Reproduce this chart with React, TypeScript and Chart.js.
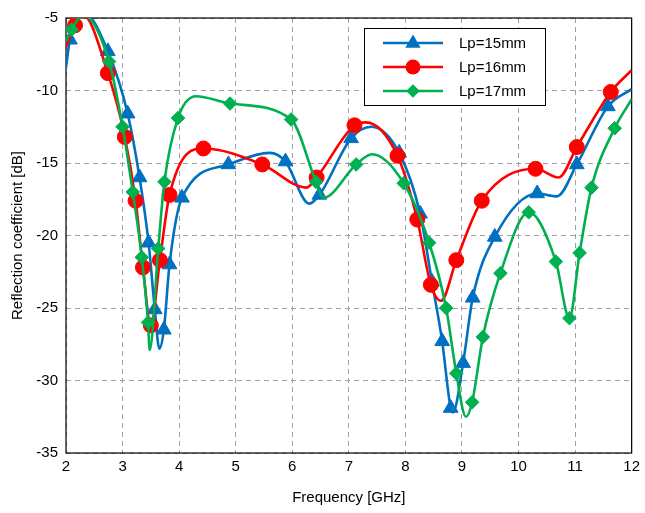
import React, { useEffect, useRef } from 'react';
import { Chart, registerables } from 'chart.js';
Chart.register(...registerables);

const seriesNames = ['Lp=15mm', 'Lp=16mm', 'Lp=17mm'];
const seriesColors = ['#0070C0', '#FF0000', '#00B050'];
const pointStyles = ['triangle', 'circle', 'rectRot'];
const pointRadii = [8.5, 7.5, 6.8];

// Lp = 15 mm — marked points
const blueMarkF = [2.07, 2.74, 3.09, 3.3, 3.46, 3.57, 3.73, 3.83, 4.05, 4.87, 5.88, 6.48, 7.04, 7.89, 8.26, 8.47, 8.65, 8.8, 9.02, 9.19, 9.58, 10.33, 11.03, 11.58];
const blueMarkV = [-6.5, -7.3, -11.6, -16.0, -20.5, -25.1, -26.5, -22.0, -17.4, -15.1, -14.9, -17.2, -13.3, -14.3, -18.5, -23.2, -27.3, -31.9, -28.8, -24.3, -20.1, -17.1, -15.1, -11.1];
// Lp = 15 mm — curve points between markers
const blueCurveF = [2.0, 2.35, 3.65, 5.6, 6.3, 7.4, 8.84, 10.68, 12.0];
const blueCurveV = [-8.4, -4.8, -27.8, -14.3, -17.8, -12.5, -32.2, -17.3, -9.9];

// Lp = 16 mm
const redMarkF = [2.16, 2.74, 3.04, 3.23, 3.36, 3.5, 3.66, 3.83, 4.43, 5.47, 6.43, 7.1, 7.86, 8.21, 8.45, 8.9, 9.35, 10.3, 11.03, 11.63];
const redMarkV = [-5.5, -8.8, -13.2, -17.6, -22.2, -26.2, -21.7, -17.2, -14.0, -15.1, -16.0, -12.4, -14.5, -18.9, -23.4, -21.7, -17.6, -15.4, -13.9, -10.1];
const redCurveF = [2.0, 2.3, 6.25, 7.3, 8.63, 10.71, 12.0];
const redCurveV = [-7.0, -4.8, -16.7, -12.2, -24.5, -16.0, -8.6];

// Lp = 17 mm
const greenMarkF = [2.1, 2.76, 3.0, 3.18, 3.34, 3.45, 3.63, 3.74, 3.98, 4.9, 5.98, 6.42, 7.13, 7.97, 8.42, 8.72, 8.9, 9.18, 9.37, 9.68, 10.18, 10.66, 10.9, 11.08, 11.29, 11.7];
const greenMarkV = [-5.8, -8.0, -12.5, -17.0, -21.5, -26.0, -20.9, -16.3, -11.9, -10.9, -12.0, -16.3, -15.1, -16.4, -20.5, -25.0, -29.5, -31.5, -27.0, -22.6, -18.4, -21.8, -25.7, -21.2, -16.7, -12.6];
const greenCurveF = [2.0, 2.3, 3.48, 4.3, 6.55, 7.41, 9.07, 12.0];
const greenCurveV = [-6.6, -4.8, -27.9, -10.4, -17.4, -14.4, -32.5, -10.6];

const markF = [blueMarkF, redMarkF, greenMarkF];
const markV = [blueMarkV, redMarkV, greenMarkV];
const curveF = [blueCurveF, redCurveF, greenCurveF];
const curveV = [blueCurveV, redCurveV, greenCurveV];

const xMin = 2, xMax = 12, xStep = 1;
const yMin = -35, yMax = -5, yStep = 5;
const xTitle = 'Frequency [GHz]';
const yTitle = 'Reflection coefficient [dB]';

const FONT = "'Liberation Sans', Arial, sans-serif";

function drawMarker(ctx: CanvasRenderingContext2D, style: string, x: number, y: number, r: number) {
  ctx.beginPath();
  if (style === 'circle') {
    ctx.arc(x, y, r, 0, Math.PI * 2);
  } else if (style === 'triangle') {
    ctx.moveTo(x, y - r);
    ctx.lineTo(x + r * 0.9, y + r * 0.55);
    ctx.lineTo(x - r * 0.9, y + r * 0.55);
    ctx.closePath();
  } else {
    ctx.moveTo(x, y - r);
    ctx.lineTo(x + r, y);
    ctx.lineTo(x, y + r);
    ctx.lineTo(x - r, y);
    ctx.closePath();
  }
  ctx.fill();
}

const framePlugin = {
  id: 'frame',
  beforeDatasetsDraw(chart: any) {
    const { ctx, chartArea } = chart;
    ctx.save();
    ctx.strokeStyle = '#000';
    ctx.lineWidth = 1.2;
    ctx.strokeRect(chartArea.left, chartArea.top, chartArea.right - chartArea.left, chartArea.bottom - chartArea.top);
    ctx.restore();
  },
};

const legendPlugin = {
  id: 'customLegend',
  afterDraw(chart: any) {
    const ctx: CanvasRenderingContext2D = chart.ctx;
    const bx = 364, by = 28, bw = 181, bh = 77;
    ctx.save();
    ctx.fillStyle = '#fff';
    ctx.fillRect(bx, by, bw, bh);
    ctx.strokeStyle = '#000';
    ctx.lineWidth = 1;
    ctx.strokeRect(bx + 0.5, by + 0.5, bw, bh);
    const rows = [43, 67, 91];
    for (let i = 0; i < 3; i++) {
      const y = rows[i];
      ctx.strokeStyle = seriesColors[i];
      ctx.lineWidth = 2.5;
      ctx.beginPath();
      ctx.moveTo(383, y);
      ctx.lineTo(443, y);
      ctx.stroke();
      ctx.fillStyle = seriesColors[i];
      drawMarker(ctx, pointStyles[i], 413, y, pointRadii[i]);
      ctx.fillStyle = '#000';
      ctx.font = `15px ${FONT}`;
      ctx.textBaseline = 'middle';
      ctx.textAlign = 'left';
      ctx.fillText(seriesNames[i], 459, y + 1);
    }
    ctx.restore();
  },
};

export default function App() {
  const ref = useRef<HTMLCanvasElement>(null);
  useEffect(() => {
    document.body.style.margin = '0';
    const datasets: any[] = [];
    for (let i = 0; i < 3; i++) {
      const pts = markF[i].map((f, j) => ({ x: f, y: markV[i][j] }))
        .concat(curveF[i].map((f, j) => ({ x: f, y: curveV[i][j] })))
        .sort((a, b) => a.x - b.x);
      datasets.push({
        label: seriesNames[i],
        data: pts,
        borderColor: seriesColors[i],
        borderWidth: 2.6,
        pointRadius: 0,
        cubicInterpolationMode: 'monotone',
        fill: false,
        order: 3 - i,
      });
      datasets.push({
        label: seriesNames[i] + ' markers',
        data: markF[i].map((f, j) => ({ x: f, y: markV[i][j] })),
        showLine: false,
        pointStyle: pointStyles[i],
        pointRadius: pointRadii[i],
        backgroundColor: seriesColors[i],
        borderColor: seriesColors[i],
        borderWidth: 1,
        order: 3 - i,
      });
    }
    const chart = new Chart(ref.current!, {
      type: 'line',
      data: { datasets },
      options: {
        animation: false,
        responsive: false,
        layout: { padding: { top: 18, right: 12, left: 0, bottom: 0 } },
        plugins: { legend: { display: false }, tooltip: { enabled: false } },
        scales: {
          x: {
            type: 'linear',
            min: xMin,
            max: xMax,
            ticks: { stepSize: xStep, color: '#000', font: { size: 15, family: FONT }, padding: 5, maxRotation: 0 },
            grid: { color: '#a0a0a0', lineWidth: 1, drawTicks: false },
            border: { display: false, dash: [5, 4] },
            title: { display: true, text: xTitle, color: '#000', font: { size: 15, family: FONT }, padding: { top: 0, bottom: 6 } },
            afterFit: (s: any) => { s.height = 60; },
          },
          y: {
            type: 'linear',
            min: yMin,
            max: yMax,
            ticks: { stepSize: yStep, color: '#000', font: { size: 15, family: FONT }, padding: 8 },
            grid: { color: '#a0a0a0', lineWidth: 1, drawTicks: false },
            border: { display: false, dash: [5, 4] },
            title: { display: true, text: yTitle, color: '#000', font: { size: 15, family: FONT }, padding: { top: 9, bottom: 0 } },
            afterFit: (s: any) => { s.width = 66; },
          },
        },
      },
      plugins: [framePlugin, legendPlugin],
    });
    return () => chart.destroy();
  }, []);
  return (
    <div style={{ width: 645, height: 513, background: '#fff' }}>
      <canvas ref={ref} width={645} height={513} />
    </div>
  );
}
